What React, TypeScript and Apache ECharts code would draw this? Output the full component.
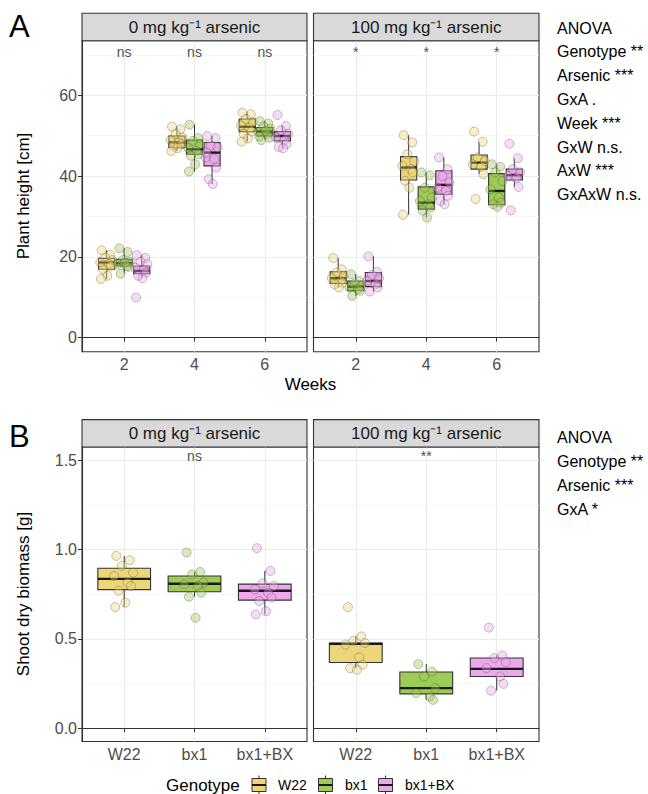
import React, { useEffect, useRef } from "react";
import * as echarts from "echarts";

const FONT = "'Liberation Sans', Arial, Helvetica, sans-serif";

const GENOTYPES = ["W22", "bx1", "bx1+BX"];
const FILL = ["#EDD679", "#9DCB55", "#EDA8EB"];
const POINT_FILL = ["rgba(237,214,121,0.5)", "rgba(157,203,85,0.5)", "rgba(237,168,235,0.5)"];
const WEEK_LABELS = ["2", "4", "6"];
const ARSENIC_LABELS = ["0 mg kg\u207B\u00B9 arsenic", "100 mg kg\u207B\u00B9 arsenic"];
const HEIGHT_TICKS = [0, 20, 40, 60];
const BIOMASS_TICKS = [0, 0.5, 1.0, 1.5];
const ANOVA_HEIGHT = ["ANOVA", "Genotype **", "Arsenic ***", "GxA .", "Week ***", "GxW n.s.", "AxW ***", "GxAxW n.s."];
const ANOVA_BIOMASS = ["ANOVA", "Genotype **", "Arsenic ***", "GxA *"];
const SIG_HEIGHT_0 = ["ns", "ns", "ns"];
const SIG_HEIGHT_100 = ["*", "*", "*"];
const SIG_BIOMASS_0 = ["ns"];
const SIG_BIOMASS_100 = ["**"];
const SIG_HEIGHT_Y = 70.7;
const SIG_BIOMASS_Y = 1.523;

// Plant height, box stats [min, Q1, median, Q3, max] per week (2, 4, 6)
const H0_W22_BOX = [[14.5, 16.9, 18.6, 19.6, 21.6], [46.2, 47.0, 48.3, 49.9, 52.2], [48.5, 51.0, 52.2, 54.1, 55.7]];
const H0_BX1_BOX = [[15.8, 17.7, 18.4, 19.4, 22.1], [41.1, 45.4, 46.6, 48.9, 52.7], [48.9, 49.9, 51.0, 52.0, 53.6]];
const H0_BXBX_BOX = [[14.7, 15.8, 16.5, 17.7, 20.4], [38.0, 42.5, 45.8, 48.3, 49.9], [47.0, 48.7, 49.9, 51.0, 52.4]];
const H100_W22_BOX = [[12.4, 13.4, 14.7, 16.3, 19.7], [30.4, 39.0, 42.1, 44.8, 50.1], [40.5, 41.7, 43.3, 45.2, 48.5]];
const H100_BX1_BOX = [[10.3, 11.6, 12.6, 14.0, 15.7], [29.7, 31.8, 33.4, 37.3, 40.9], [32.4, 32.9, 36.3, 40.6, 42.9]];
const H100_BXBX_BOX = [[11.4, 12.6, 14.0, 16.1, 20.1], [33.0, 35.5, 37.8, 41.3, 44.6], [37.3, 39.0, 40.2, 41.7, 44.4]];

// Plant height, individual plants per week (2, 4, 6)
const H0_W22_PTS = [
  [21.6, 20.5, 19.8, 19.2, 18.6, 18.2, 17.7, 16.9, 15.3, 14.5],
  [52.2, 51.6, 50.4, 49.5, 48.9, 48.3, 47.9, 47.5, 46.9, 46.2],
  [55.7, 55.3, 54.1, 53.3, 52.5, 51.9, 51.0, 50.4, 49.3, 48.5],
];
const H0_BX1_PTS = [
  [22.1, 21.2, 19.2, 18.8, 18.2, 17.7, 17.5, 15.8, 18.5],
  [52.7, 49.4, 48.7, 47.9, 46.9, 46.2, 45.4, 45.0, 42.9, 41.1],
  [53.6, 53.0, 52.3, 51.7, 50.9, 50.4, 49.5, 48.9, 51.2, 49.8],
];
const H0_BXBX_PTS = [
  [20.4, 19.7, 18.8, 18.2, 17.3, 16.7, 16.1, 15.3, 14.7, 9.9],
  [49.9, 49.4, 47.5, 47.1, 44.6, 44.2, 42.1, 39.2, 38.0, 45.8],
  [55.1, 52.4, 51.3, 50.4, 49.5, 48.8, 47.9, 47.2, 46.9],
];
const H100_W22_PTS = [
  [19.7, 16.9, 16.1, 15.3, 14.7, 14.0, 13.6, 13.2, 12.4],
  [50.1, 48.3, 45.4, 43.7, 42.5, 41.7, 40.9, 38.8, 37.1, 30.4],
  [51.0, 48.5, 44.6, 43.7, 42.9, 42.3, 40.5, 34.3],
];
const H100_BX1_PTS = [
  [15.7, 14.0, 13.4, 12.8, 12.4, 12.0, 11.6, 10.3],
  [40.9, 40.2, 37.1, 34.7, 33.8, 33.0, 32.2, 31.4, 29.7],
  [42.9, 42.3, 40.9, 38.8, 36.7, 34.7, 33.4, 33.0, 32.4],
];
const H100_BXBX_PTS = [
  [20.1, 16.3, 15.5, 14.7, 14.0, 13.2, 12.4, 11.4],
  [44.6, 41.7, 40.0, 38.4, 37.1, 36.3, 35.1, 33.8, 33.0],
  [48.0, 44.4, 41.7, 40.9, 40.0, 39.6, 37.3, 31.5],
];

// Shoot dry biomass, box stats per genotype (W22, bx1, bx1+BX)
const B0_BOX = [[0.678, 0.776, 0.836, 0.896, 0.965], [0.736, 0.764, 0.809, 0.852, 0.875], [0.637, 0.717, 0.770, 0.807, 0.881]];
const B100_BOX = [[0.336, 0.368, 0.472, 0.477, 0.514], [0.158, 0.192, 0.224, 0.314, 0.359], [0.210, 0.289, 0.332, 0.393, 0.407]];
const B0_PTS = [
  [0.965, 0.941, 0.909, 0.871, 0.852, 0.815, 0.796, 0.770, 0.703, 0.678],
  [0.984, 0.875, 0.862, 0.815, 0.806, 0.796, 0.759, 0.736, 0.618],
  [1.008, 0.881, 0.811, 0.796, 0.777, 0.759, 0.731, 0.712, 0.655, 0.637],
];
const B100_PTS = [
  [0.678, 0.514, 0.490, 0.477, 0.468, 0.396, 0.355, 0.336, 0.327],
  [0.359, 0.317, 0.289, 0.224, 0.195, 0.176, 0.158],
  [0.563, 0.407, 0.393, 0.370, 0.336, 0.289, 0.248, 0.210],
];

// fixed jitter pattern (display only)
const JITTER = [-0.07, 0.05, -0.02, 0.08, -0.09, 0.03, 0.06, -0.05, 0.01, -0.08, 0.09, -0.03];
const DODGE = [-0.25, 0, 0.25];

function boxRender(params: any, api: any) {
  const x = api.value(0);
  const vals = [1, 2, 3, 4, 5].map((i) => api.value(i));
  const w = api.value(6);
  const pts = vals.map((v) => api.coord([x, v]));
  const cx = pts[0][0];
  const half = api.size([w, 0])[0] / 2;
  const [yMin, yQ1, yMed, yQ3, yMax] = pts.map((p: number[]) => p[1]);
  const color = api.visual("color");
  return {
    type: "group",
    children: [
      { type: "line", shape: { x1: cx, y1: yQ3, x2: cx, y2: yMax }, style: { stroke: "#333", lineWidth: 1 } },
      { type: "line", shape: { x1: cx, y1: yQ1, x2: cx, y2: yMin }, style: { stroke: "#333", lineWidth: 1 } },
      {
        type: "rect",
        shape: { x: cx - half, y: yQ3, width: 2 * half, height: yQ1 - yQ3 },
        style: { fill: color, stroke: "#333", lineWidth: 1.1 },
      },
      { type: "line", shape: { x1: cx - half, y1: yMed, x2: cx + half, y2: yMed }, style: { stroke: "#1a1a1a", lineWidth: 2.4 } },
    ],
  };
}

function boxSeries(axis: number, stats: number[][], xs: number[], width: number, gi: number) {
  return {
    type: "custom",
    xAxisIndex: axis,
    yAxisIndex: axis,
    z: 2,
    silent: true,
    itemStyle: { color: FILL[gi] },
    encode: { x: 0, y: [1, 2, 3, 4, 5] },
    data: stats.map((s, k) => [xs[k], ...s, width]),
    renderItem: boxRender,
  };
}

function pointSeries(axis: number, pts: number[][], xs: number[], spread: number, gi: number) {
  const data: number[][] = [];
  pts.forEach((arr, k) => arr.forEach((v, j) => data.push([xs[k] + JITTER[j % JITTER.length] * spread, v])));
  return {
    type: "scatter",
    xAxisIndex: axis,
    yAxisIndex: axis,
    z: 3,
    silent: true,
    symbolSize: 9,
    itemStyle: { color: POINT_FILL[gi], borderColor: "rgba(70,70,70,0.45)", borderWidth: 0.9 },
    data,
  };
}

function sigSeries(axis: number, labels: string[], xs: number[], y: number) {
  return {
    type: "scatter",
    xAxisIndex: axis,
    yAxisIndex: axis,
    z: 4,
    silent: true,
    symbolSize: 1,
    itemStyle: { color: "rgba(0,0,0,0)" },
    label: {
      show: true,
      position: "inside",
      formatter: (p: any) => labels[p.dataIndex],
      fontSize: 14,
      color: "#1a1a1a",
      fontFamily: FONT,
    },
    data: xs.map((x) => [x, y]),
  };
}

const GRIDS = [
  { left: 82, top: 40.7, width: 225, height: 311 },
  { left: 313.5, top: 40.7, width: 225.5, height: 311 },
  { left: 82, top: 447, width: 225, height: 294.5 },
  { left: 313.5, top: 447, width: 225.5, height: 294.5 },
];

function xAxis(gi: number, labels: string[]) {
  return {
    type: "value",
    gridIndex: gi,
    min: 0.4,
    max: 3.6,
    axisLine: { show: true, lineStyle: { color: "#333", width: 1.1 } },
    axisTick: { show: true, customValues: [1, 2, 3], length: 4, lineStyle: { color: "#333" } },
    axisLabel: {
      customValues: [1, 2, 3],
      formatter: (v: number) => labels[Math.round(v) - 1],
      color: "#4D4D4D",
      fontSize: 16,
      margin: 5,
      fontFamily: FONT,
    },
    splitLine: { show: true, lineStyle: { color: "#EBEBEB", width: 1.1 } },
  };
}

function yAxis(gi: number, min: number, max: number, splitNumber: number, ticks: number[], showLabels: boolean, fmt: (v: number) => string) {
  return {
    type: "value",
    gridIndex: gi,
    min,
    max,
    splitNumber,
    axisLine: { show: showLabels, lineStyle: { color: "#333", width: 1.1 } },
    axisTick: { show: showLabels, customValues: ticks, length: 4, lineStyle: { color: "#333" } },
    axisLabel: {
      show: showLabels,
      customValues: ticks,
      formatter: fmt,
      color: "#4D4D4D",
      fontSize: 16,
      margin: 5,
      fontFamily: FONT,
    },
    splitLine: { show: true, lineStyle: { color: "#EBEBEB", width: 1.1 } },
    minorTick: { show: false, splitNumber: 2 },
    minorSplitLine: { show: true, lineStyle: { color: "#F3F3F3", width: 0.7 } },
  };
}

function strip(x: number, y: number, w: number, text: string) {
  return [
    { type: "rect", shape: { x, y, width: w, height: 27.4 }, style: { fill: "#D9D9D9", stroke: "#333", lineWidth: 1.1 }, z: 10 },
    {
      type: "text",
      x: x + w / 2,
      y: y + 14,
      z: 11,
      style: { text, fill: "#1a1a1a", fontSize: 17, fontFamily: FONT, align: "center", verticalAlign: "middle" },
    },
  ];
}

function txt(x: number, y: number, text: string, size: number, extra: any = {}) {
  return {
    type: "text",
    x,
    y,
    z: 11,
    ...extra,
    style: { text, fill: "#000", fontSize: size, fontFamily: FONT, align: "left", verticalAlign: "middle", ...(extra.style || {}) },
  };
}

function legendKey(x: number, gi: number) {
  return {
    type: "group",
    x,
    y: 0,
    children: [
      { type: "line", shape: { x1: 7, y1: 775.5, x2: 7, y2: 778.5 }, style: { stroke: "#333", lineWidth: 1 } },
      { type: "line", shape: { x1: 7, y1: 791.5, x2: 7, y2: 794 }, style: { stroke: "#333", lineWidth: 1 } },
      { type: "rect", shape: { x: 0, y: 778.5, width: 14, height: 13 }, style: { fill: FILL[gi], stroke: "#333", lineWidth: 1 } },
      { type: "line", shape: { x1: 0, y1: 785, x2: 14, y2: 785 }, style: { stroke: "#1a1a1a", lineWidth: 2 } },
    ],
  };
}

export default function App() {
  const ref = useRef<HTMLDivElement>(null);
  useEffect(() => {
    if (!ref.current) return;
    const chart = echarts.init(ref.current, undefined, { renderer: "svg" });

    const weekX = (gi: number) => [1, 2, 3].map((w) => w + DODGE[gi]);
    const genoX = (gi: number) => [gi + 1];

    const series: any[] = [];
    const hBox0 = [H0_W22_BOX, H0_BX1_BOX, H0_BXBX_BOX];
    const hBox100 = [H100_W22_BOX, H100_BX1_BOX, H100_BXBX_BOX];
    const hPts0 = [H0_W22_PTS, H0_BX1_PTS, H0_BXBX_PTS];
    const hPts100 = [H100_W22_PTS, H100_BX1_PTS, H100_BXBX_PTS];
    for (let gi = 0; gi < 3; gi++) {
      series.push(boxSeries(0, hBox0[gi], weekX(gi), 0.23, gi));
      series.push(boxSeries(1, hBox100[gi], weekX(gi), 0.23, gi));
      series.push(boxSeries(2, [B0_BOX[gi]], genoX(gi), 0.75, gi));
      series.push(boxSeries(3, [B100_BOX[gi]], genoX(gi), 0.75, gi));
    }
    for (let gi = 0; gi < 3; gi++) {
      series.push(pointSeries(0, hPts0[gi], weekX(gi), 1, gi));
      series.push(pointSeries(1, hPts100[gi], weekX(gi), 1, gi));
      series.push(pointSeries(2, [B0_PTS[gi]], genoX(gi), 1.6, gi));
      series.push(pointSeries(3, [B100_PTS[gi]], genoX(gi), 1.6, gi));
    }
    series.push(sigSeries(0, SIG_HEIGHT_0, [1, 2, 3], SIG_HEIGHT_Y));
    series.push(sigSeries(1, SIG_HEIGHT_100, [1, 2, 3], SIG_HEIGHT_Y));
    series.push(sigSeries(2, SIG_BIOMASS_0, [2], SIG_BIOMASS_Y));
    series.push(sigSeries(3, SIG_BIOMASS_100, [2], SIG_BIOMASS_Y));

    const hFmt = (v: number) => String(v);
    const bFmt = (v: number) => v.toFixed(1);

    const graphics: any[] = [
      ...strip(82, 13.3, 225, ARSENIC_LABELS[0]),
      ...strip(313.5, 13.3, 225.5, ARSENIC_LABELS[1]),
      ...strip(82, 419.6, 225, ARSENIC_LABELS[0]),
      ...strip(313.5, 419.6, 225.5, ARSENIC_LABELS[1]),
      txt(9, 26, "A", 31),
      txt(9, 436, "B", 31),
      txt(23, 196, "Plant height [cm]", 17, { rotation: Math.PI / 2, style: { align: "center" } }),
      txt(23, 594, "Shoot dry biomass [g]", 17, { rotation: Math.PI / 2, style: { align: "center" } }),
      txt(310.5, 384.5, "Weeks", 17, { style: { align: "center" } }),
      ...ANOVA_HEIGHT.map((t, i) => txt(557, 28 + i * 23.8, t, 16)),
      ...ANOVA_BIOMASS.map((t, i) => txt(557, 437 + i * 24, t, 16)),
      txt(166, 785, "Genotype", 17),
      legendKey(252, 0),
      txt(278, 785, GENOTYPES[0], 14),
      legendKey(318.5, 1),
      txt(345, 785, GENOTYPES[1], 14),
      legendKey(378.5, 2),
      txt(405, 785, GENOTYPES[2], 14),
    ];

    chart.setOption({
      animation: false,
      backgroundColor: "#FFFFFF",
      textStyle: { fontFamily: FONT },
      grid: GRIDS.map((g) => ({ ...g, show: true, borderColor: "#333", borderWidth: 1.1, backgroundColor: "transparent", containLabel: false, outerBoundsMode: "none" })),
      xAxis: [xAxis(0, WEEK_LABELS), xAxis(1, WEEK_LABELS), xAxis(2, GENOTYPES), xAxis(3, GENOTYPES)],
      yAxis: [
        yAxis(0, -3.5, 73.5, 4, HEIGHT_TICKS, true, hFmt),
        yAxis(1, -3.5, 73.5, 4, HEIGHT_TICKS, false, hFmt),
        yAxis(2, -0.075, 1.575, 3, BIOMASS_TICKS, true, bFmt),
        yAxis(3, -0.075, 1.575, 3, BIOMASS_TICKS, false, bFmt),
      ],
      series,
      graphic: { elements: graphics },
    });
    return () => chart.dispose();
  }, []);
  return <div ref={ref} style={{ position: "fixed", left: 0, top: 0, width: 648, height: 794 }} />;
}
